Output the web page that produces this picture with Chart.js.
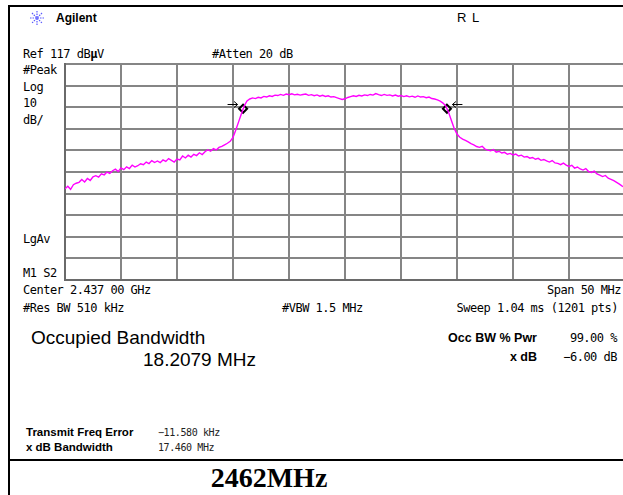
<!DOCTYPE html>
<html>
<head>
<meta charset="utf-8">
<script src="https://cdn.jsdelivr.net/npm/chart.js@4.4.0/dist/chart.umd.min.js"></script>
<style>
    html, body { margin: 0; padding: 0; background: #fff; }
    body { width: 623px; height: 495px; overflow: hidden; position: relative; color: #000; font-family: 'DejaVu Sans Mono', monospace; }
    .frame-top { position: absolute; left: 8px; top: 5px; width: 620px; height: 2px; background: #000; }
    .frame-left { position: absolute; left: 8px; top: 5px; width: 2px; height: 495px; background: #000; }
    .frame-mid { position: absolute; left: 8px; top: 459px; width: 620px; height: 2px; background: #000; }
    .t { position: absolute; white-space: pre; line-height: 1; font-size: 12px; letter-spacing: -0.5px; }
    .r { text-align: right; }
    .b { font-family: 'Liberation Sans', Arial, sans-serif; font-weight: bold; letter-spacing: 0; }
    .big { font-family: 'Liberation Sans', Arial, sans-serif; font-size: 19px; letter-spacing: 0; }
    .thin { font-size: 10px; letter-spacing: -0.4px; color: #222; }
    #wrap { position: absolute; left: 64px; top: 63px; width: 562px; height: 218px; }
    .caption { position: absolute; left: 10px; width: 518px; top: 464px; text-align: center; font-family: 'Liberation Serif', 'Times New Roman', serif; font-weight: bold; font-size: 28px; line-height: 1; }
</style>
</head>
<body>
<div class="frame-top"></div>
<div class="frame-left"></div>
<div class="frame-mid"></div>

<svg style="position:absolute;left:29px;top:11px" width="16" height="14" viewBox="0 0 16 14">
    <g stroke="#5a5aff" stroke-width="1.2" stroke-dasharray="1.5 1">
        <line x1="8" y1="0" x2="8" y2="14"/><line x1="1" y1="7" x2="15" y2="7"/>
        <line x1="3" y1="2" x2="13" y2="12"/><line x1="13" y1="2" x2="3" y2="12"/>
    </g>
</svg>
<div class="t b" style="left:56px;top:12px;font-size:12px">Agilent</div>
<div class="t" style="left:457px;top:11px;font-family:'Liberation Sans',sans-serif;font-size:13px;letter-spacing:1px">R L</div>

<div class="t" style="left:23px;top:48px">Ref 117 dB<b>µ</b>V</div>
<div class="t" style="left:212px;top:48px">#Atten 20 dB</div>
<div class="t" style="left:23px;top:64px">#Peak</div>
<div class="t" style="left:23px;top:81px">Log</div>
<div class="t" style="left:23px;top:97px">10</div>
<div class="t" style="left:23px;top:114px">dB/</div>
<div class="t" style="left:23px;top:233px">LgAv</div>
<div class="t" style="left:23px;top:267px">M1 S2</div>
<div class="t" style="left:23px;top:284px">Center 2.437 00 GHz</div>
<div class="t r" style="right:2px;top:284px">Span 50 MHz</div>
<div class="t" style="left:23px;top:302px">#Res BW 510 kHz</div>
<div class="t" style="left:282px;top:302px">#VBW 1.5 MHz</div>
<div class="t r" style="right:5px;top:302px">Sweep 1.04 ms (1201 pts)</div>

<div class="t big" style="left:31px;top:328px">Occupied Bandwidth</div>
<div class="t big" style="left:143px;top:350px">18.2079 MHz</div>

<div class="t b r" style="right:86px;top:332px;font-size:12.5px">Occ BW % Pwr</div>
<div class="t r" style="right:6px;top:332px">99.00 %</div>
<div class="t b r" style="right:86px;top:351px;font-size:12.5px">x dB</div>
<div class="t r" style="right:6px;top:351px">−6.00 dB</div>

<div class="t b" style="left:26px;top:427px;font-size:11.5px">Transmit Freq Error</div>
<div class="t thin" style="left:158px;top:428px">−11.580 kHz</div>
<div class="t b" style="left:26px;top:442px;font-size:11.5px">x dB Bandwidth</div>
<div class="t thin" style="left:158px;top:443px">17.460 MHz</div>

<div class="caption">2462MHz</div>

<div id="wrap"><canvas id="sa" width="562" height="218"></canvas></div>

<script>
// ——— DATA ———
const startMHz = 2412;      // Center 2.437 GHz, Span 50 MHz
const stopMHz = 2462;
const stepMHz = 0.25;
const refLevel = 117;       // dBµV, top of screen
const dbPerDiv = 10;

// trace level, dBµV, every 0.25 MHz
const traceLevel = [
    59.2, 60.4, 59.0, 61.1,
    61.8, 62.2, 63.5, 62.4,
    64.0, 63.1, 64.8, 65.3,
    64.6, 66.2, 65.7, 67.0,
    66.4, 67.6, 68.3, 67.2,
    68.9, 68.1, 69.4, 68.6,
    70.2, 69.3, 69.9, 70.8,
    70.4, 71.6, 70.9, 72.3,
    71.4, 72.1, 71.3, 72.6,
    71.9, 73.2, 72.4, 71.6,
    73.0, 72.6, 74.4, 73.5,
    74.8, 73.9, 75.2, 74.6,
    75.9, 75.1, 76.4, 77.3,
    76.6, 77.8, 77.2, 78.4,
    78.9, 79.6, 80.3, 81.2,
    83.0, 86.4, 90.2, 94.0,
    97.6, 99.9, 100.8, 101.3,
    101.0, 101.6, 101.3, 102.0,
    101.7, 102.3, 102.0, 102.6,
    102.4, 102.9, 102.5, 103.1,
    102.8, 103.2, 102.7, 103.0,
    102.6, 102.9, 103.1, 102.5,
    102.8, 102.3, 102.7, 102.1,
    102.5, 102.0, 102.3, 101.7,
    101.9, 101.4, 101.0, 100.6,
    100.9, 101.5, 101.9, 102.3,
    102.0, 102.5, 102.2, 102.7,
    102.4, 102.9, 102.6, 103.3,
    102.8, 102.4, 102.9, 102.5,
    102.7, 102.2, 102.6, 102.1,
    102.4, 101.9, 102.3, 101.8,
    102.1, 101.6, 102.2, 101.7,
    101.9, 101.4, 101.7, 101.0,
    100.8, 100.4, 99.8, 98.9,
    97.6, 94.6, 90.8, 87.2,
    84.6, 83.1, 82.2, 81.6,
    80.9, 80.1, 79.6, 78.8,
    78.4, 78.9, 77.6, 77.1,
    76.8, 77.4, 76.2, 76.6,
    75.8, 76.1, 75.2, 75.6,
    74.9, 75.3, 74.4, 74.8,
    73.9, 74.2, 73.4, 73.7,
    72.9, 73.3, 72.4, 72.8,
    72.1, 71.6, 72.3, 71.2,
    71.0, 70.4, 71.1, 70.2,
    69.6, 70.1, 68.8, 69.3,
    68.4, 67.9, 68.6, 67.2,
    66.8, 67.4, 66.1, 65.6,
    64.9, 65.4, 64.1, 63.6,
    63.0, 62.2, 61.4, 60.5,
    59.9
];

// -6 dB occupied bandwidth markers
const markerFreq = [2427.9, 2446.1];
const markerLevel = [96.3, 96.3];

// ——— CHART ———
const tracePts = traceLevel.map((v, i) => ({ x: startMHz + i * stepMHz, y: v }));
const markerPts = markerFreq.map((f, i) => ({ x: f, y: markerLevel[i] }));

// little arrows beside the two delta markers
const markerArrows = {
    id: 'markerArrows',
    afterDatasetsDraw(chart) {
        const ctx = chart.ctx;
        const pts = chart.getDatasetMeta(1).data;
        ctx.save();
        ctx.strokeStyle = '#000';
        ctx.lineWidth = 1;
        pts.forEach((p, i) => {
            const dir = i === 0 ? 1 : -1;          // left one points right, right one points left
            const tip = p.x - dir * 5.5;
            const tail = p.x - dir * 15.5;
            const y = Math.round(p.y - 5) + 0.5;
            ctx.beginPath();
            ctx.moveTo(tail, y);
            ctx.lineTo(tip, y);
            ctx.moveTo(tip - dir * 3.5, y - 3);
            ctx.lineTo(tip, y);
            ctx.lineTo(tip - dir * 3.5, y + 3);
            ctx.stroke();
        });
        ctx.restore();
    }
};

new Chart(document.getElementById('sa').getContext('2d'), {
    type: 'line',
    data: {
        datasets: [{
            data: tracePts,
            borderColor: '#ff00ff',
            borderWidth: 1.4,
            pointRadius: 0,
            tension: 0
        }, {
            data: markerPts,
            showLine: false,
            pointStyle: 'rectRot',
            pointRadius: 4,
            borderWidth: 2,
            borderColor: '#000',
            backgroundColor: '#fff'
        }]
    },
    options: {
        responsive: false,
        animation: false,
        events: [],
        layout: { padding: 1, autoPadding: false },
        plugins: { legend: { display: false }, tooltip: { enabled: false } },
        scales: {
            x: {
                type: 'linear',
                min: startMHz,
                max: stopMHz,
                ticks: { display: false, stepSize: 5 },
                grid: { color: '#858585', lineWidth: 2, drawTicks: false },
                border: { display: true, color: '#6a6a6a', width: 2 }
            },
            y: {
                min: refLevel - 10 * dbPerDiv,
                max: refLevel,
                ticks: { display: false, stepSize: dbPerDiv },
                grid: { color: '#858585', lineWidth: 2, drawTicks: false },
                border: { display: true, color: '#6a6a6a', width: 2 }
            }
        }
    },
    plugins: [markerArrows]
});
</script>
</body>
</html>
